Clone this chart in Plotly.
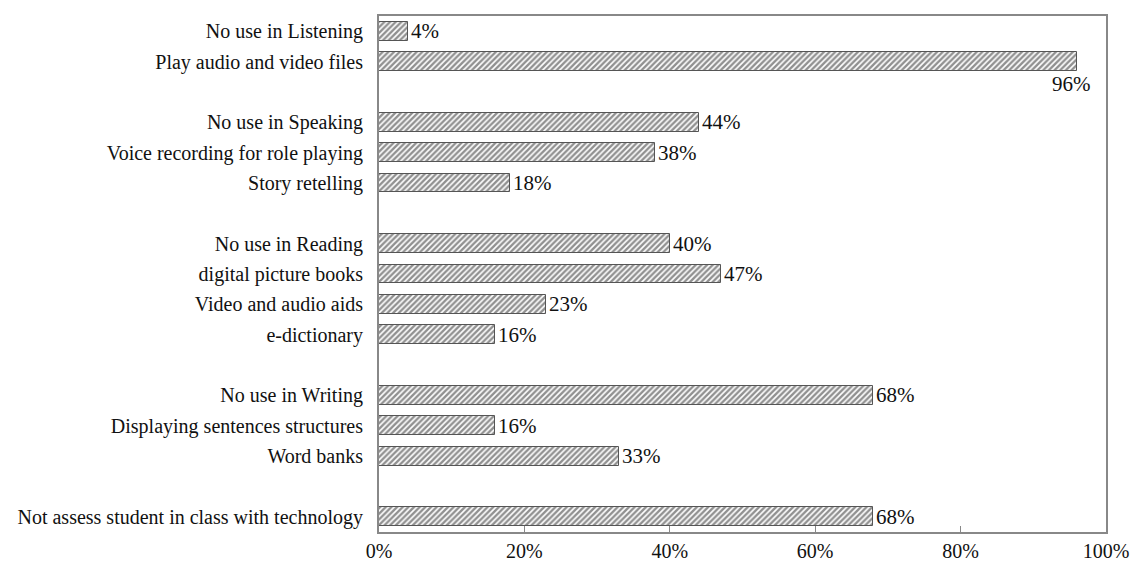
import plotly.graph_objects as go

# Rows from top to bottom; empty strings are the gaps between groups
categories = ["No use in Listening", "Play audio and video files", "",
              "No use in Speaking", "Voice recording for role playing", "Story retelling", "",
              "No use in Reading", "digital picture books", "Video and audio aids", "e-dictionary", "",
              "No use in Writing", "Displaying sentences structures", "Word banks", "",
              "Not assess student in class with technology"]
values = [4, 96, None,
          44, 38, 18, None,
          40, 47, 23, 16, None,
          68, 16, 33, None,
          68]
tick_vals = [0, 20, 40, 60, 80, 100]
tick_text = ["0%", "20%", "40%", "60%", "80%", "100%"]

font = "Liberation Serif, Times New Roman, serif"
ys = list(range(len(categories)))
bar_y = [y for y, v in zip(ys, values) if v is not None]
bar_x = [v for v in values if v is not None]

fig = go.Figure()
fig.add_trace(go.Bar(
    x=bar_x, y=bar_y, orientation="h", width=0.62,
    marker=dict(color="white", line=dict(color="#555", width=1),
                pattern=dict(shape="/", fgcolor="#222", bgcolor="white", size=4, solidity=0.6)),
    showlegend=False))

# Value labels next to each bar end; the 96% one sits under the bar
for y, v in zip(bar_y, bar_x):
    if v > 90:
        fig.add_annotation(x=v, y=y + 0.73, text=f"{v}%", showarrow=False,
                           xanchor="center", yanchor="middle", xshift=-5,
                           font=dict(family=font, size=21, color="#111"))
    else:
        fig.add_annotation(x=v, y=y, text=f"{v}%", showarrow=False,
                           xanchor="left", yanchor="middle", xshift=1,
                           font=dict(family=font, size=21, color="#111"))

fig.update_yaxes(range=[len(categories) - 0.5, -0.5], tickvals=ys, ticktext=categories,
                 showgrid=False, zeroline=False, ticks="", ticklabelstandoff=10,
                 showline=True, linecolor="#888", linewidth=2, mirror=True,
                 tickfont=dict(family=font, size=20, color="#111"))
fig.update_xaxes(range=[0, 100], tickvals=tick_vals, ticktext=tick_text,
                 showgrid=False, zeroline=False, ticks="inside", ticklen=6, tickcolor="#888",
                 showline=True, linecolor="#888", linewidth=2, mirror=True,
                 tickfont=dict(family=font, size=20, color="#111"))

fig.update_layout(width=1134, height=564, plot_bgcolor="white", paper_bgcolor="white",
                  margin=dict(l=379, r=28, t=16, b=32, autoexpand=False), bargap=0)

# the page's default body margin would push the figure 8px down and right
fig.write_html("out.html", config={"displayModeBar": False},
               post_script="document.body.style.margin='0';")
